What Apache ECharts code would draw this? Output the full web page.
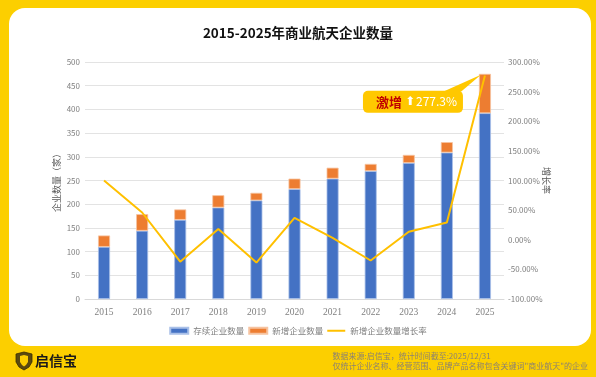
<!DOCTYPE html>
<html>
<head>
<meta charset="utf-8">
<script src="https://cdn.jsdelivr.net/npm/echarts@6/dist/echarts.min.js"></script>
<style>
  html, body { margin: 0; padding: 0; }
  body { width: 596px; height: 377px; background: #fccf00; position: relative; overflow: hidden; }
  #panel { position: absolute; left: 9px; top: 8px; width: 582px; height: 338px; background: #fff; border-radius: 16px; }
  #chart { position: absolute; left: 0; top: 0; width: 596px; height: 377px; }
</style>
</head>
<body>
<div id="panel"></div>
<div id="chart"></div>
<script>
const years = ['2015', '2016', '2017', '2018', '2019', '2020', '2021', '2022', '2023', '2024', '2025'];
const existing = [110, 144, 167, 193, 208, 232, 254, 270, 287, 309, 392];
const added = [24, 35, 22, 26, 16, 22, 23, 15, 17, 22, 83];
const growth = [100, 46, -37, 18, -38.5, 37, 3, -35, 13.5, 29, 277.3];
const FONT = '"Noto Sans CJK SC", "Noto Sans", sans-serif';

const chart = echarts.init(document.getElementById('chart'));

chart.setOption({
  animation: false,
  backgroundColor: 'transparent',
  textStyle: { fontFamily: FONT },
  title: {
    text: '2015-2025年商业航天企业数量',
    left: 'center',
    top: 21,
    textStyle: { fontSize: 13.5, fontWeight: 'bold', color: '#111', fontFamily: FONT },
  },
  grid: { left: 85, right: 92, top: 62, bottom: 78 },
  legend: {
    bottom: 37,
    left: 'center',
    itemWidth: 18,
    itemHeight: 6,
    itemGap: 4,
    textStyle: { fontSize: 8.5, color: '#7f7f7f', fontFamily: FONT },
    data: [
      { name: '存续企业数量', icon: 'rect' },
      { name: '新增企业数量', icon: 'rect' },
      { name: '新增企业数量增长率', icon: 'path://M0,0 L18,0 L18,2 L0,2 Z' },
    ],
  },
  xAxis: {
    type: 'category',
    data: years,
    axisLine: { lineStyle: { color: '#d9d9d9' } },
    axisTick: { show: false },
    axisLabel: { color: '#7f7f7f', fontSize: 9.5, margin: 8, fontFamily: '"Liberation Serif", "DejaVu Serif", serif' },
  },
  yAxis: [
    {
      type: 'value',
      min: 0,
      max: 500,
      interval: 50,
      name: '企业数量（家）',
      nameLocation: 'middle',
      nameGap: 24,
      nameMoveOverlap: false,
      nameTextStyle: { fontSize: 9, color: '#595959', fontFamily: FONT },
      axisLine: { show: false },
      axisTick: { show: false },
      axisLabel: { color: '#7f7f7f', fontSize: 8, margin: 5 },
      splitLine: { lineStyle: { color: '#e3e3e3' } },
    },
    {
      type: 'value',
      min: -100,
      max: 300,
      interval: 50,
      name: '增长率',
      nameLocation: 'middle',
      nameGap: 38,
      nameRotate: -90,
      nameMoveOverlap: false,
      nameTextStyle: { fontSize: 9, color: '#595959', fontFamily: FONT },
      axisLine: { show: false },
      axisTick: { show: false },
      axisLabel: { color: '#7f7f7f', fontSize: 8, margin: 4, formatter: (v) => v.toFixed(2) + '%' },
      splitLine: { show: false },
    },
  ],
  series: [
    {
      name: '存续企业数量',
      type: 'bar',
      stack: 'total',
      barWidth: 12,
      data: existing,
      itemStyle: { color: '#4472c4', borderColor: '#a9c0e8', borderWidth: 0.8 },
    },
    {
      name: '新增企业数量',
      type: 'bar',
      stack: 'total',
      barWidth: 12,
      data: added,
      itemStyle: { color: '#ed7d31', borderColor: '#f6c3a0', borderWidth: 0.8 },
    },
    {
      name: '新增企业数量增长率',
      type: 'line',
      yAxisIndex: 1,
      data: growth,
      symbol: 'none',
      lineStyle: { color: '#ffc000', width: 2 },
      itemStyle: { color: '#ffc000' },
      z: 5,
    },
  ],
});

// callout anchored to the top of the 2025 bar
const last = years.length - 1;
const tip = chart.convertToPixel({ xAxisIndex: 0, yAxisIndex: 0 }, [years[last], existing[last] + added[last]]);
const tx = tip[0] - 4;
const ty = tip[1] + 1;
const bx = tx - 118;
const by = ty + 16;

chart.setOption({
  graphic: [
    {
      type: 'polygon',
      shape: { points: [[tx, ty], [bx + 80, by + 1], [bx + 98, by + 1]] },
      style: { fill: '#ffc800' },
      z: 10,
    },
    {
      type: 'rect',
      shape: { x: bx, y: by, width: 100, height: 22, r: 5 },
      style: { fill: '#ffc800' },
      z: 10,
    },
    {
      type: 'text',
      x: bx + 13,
      y: by + 11,
      style: {
        text: '{a|激增}{b|⬆}{c|277.3%}',
        verticalAlign: 'middle',
        rich: {
          a: { fontSize: 13, fontWeight: 'bold', fill: '#c00000', fontFamily: FONT },
          b: { fontSize: 12, fill: '#fff', padding: [0, 1, 0, 3], fontFamily: '"DejaVu Sans", sans-serif' },
          c: { fontSize: 12, fill: '#fff', fontFamily: FONT },
        },
      },
      z: 11,
    },
    // logo
    {
      type: 'polygon',
      shape: { points: [[16, 354], [24, 352], [32, 354], [32, 362], [29, 367], [24, 370], [19, 367], [16, 362]] },
      style: { fill: '#5a4a10', stroke: '#3a2e00', lineWidth: 0.8 },
      z: 10,
    },
    {
      type: 'polygon',
      shape: { points: [[20, 356], [24, 355], [28, 356], [28, 362], [26, 365], [24, 366.5], [22, 365], [20, 362]] },
      style: { fill: '#fccf00' },
      z: 11,
    },
    {
      type: 'text',
      x: 35,
      y: 361,
      style: { text: '启信宝', fontSize: 14, fontWeight: 'bold', fill: '#1a1a1a', verticalAlign: 'middle', fontFamily: FONT },
      z: 10,
    },
    {
      type: 'text',
      right: 8,
      top: 351,
      style: {
        text: '数据来源:启信宝，统计时间截至:2025/12/31\n仅统计企业名称、经营范围、品牌产品名称包含关键词"商业航天"的企业',
        fontSize: 8,
        lineHeight: 10,
        align: 'right',
        fill: '#8c8270',
        fontFamily: FONT,
      },
      z: 10,
    },
  ],
});
</script>
</body>
</html>
